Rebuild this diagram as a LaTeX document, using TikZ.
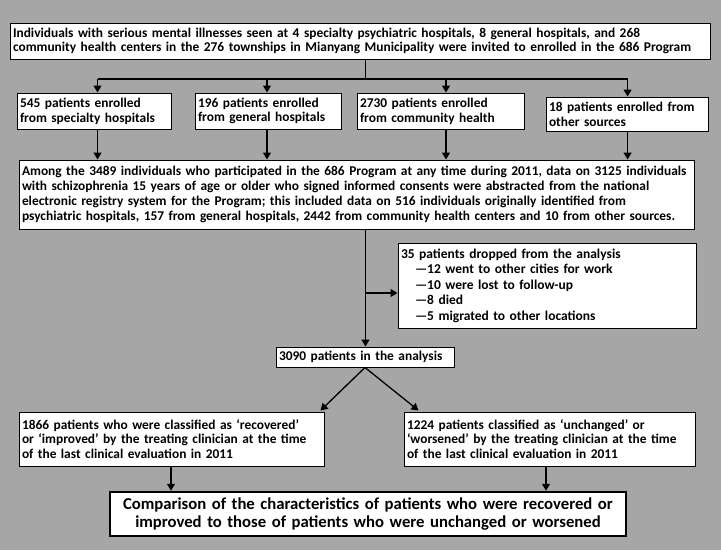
\documentclass[tikz,border=0pt]{standalone}
\usepackage{fontspec}
\setmainfont{Carlito}
\usetikzlibrary{arrows.meta,calc}
\definecolor{bg}{RGB}{166,166,166}
\tikzset{
  box/.style={draw=black, fill=white, line width=1pt, align=left, inner xsep=3pt, inner ysep=2pt,
    font=\bfseries\fontsize{13.4}{14.8}\selectfont},
  arr/.style={line width=1.3pt, -{Triangle[length=7pt,width=8pt]}},
  ln/.style={line width=1.3pt}
}
\begin{document}
\begin{tikzpicture}[x=1pt,y=-1pt]
\fill[bg] (0,0) rectangle (721,550);
\useasboundingbox (0,0) rectangle (721,550);

\node[box, text width=694pt, minimum height=36pt] (top) at (360,41)
 {Individuals with serious mental illnesses seen at 4 specialty psychiatric hospitals, 8 general hospitals, and 268\\
  community health centers in the 276 townships in Mianyang Municipality were invited to enrolled in the 686 Program};

\node[box, text width=148pt, minimum height=36pt] (b1) at (94,111) {545 patients enrolled\\from specialty hospitals};
\node[box, text width=140pt, minimum height=36pt] (b2) at (268,111) {196 patients enrolled\\from general hospitals};
\node[box, text width=161pt, minimum height=36pt] (b3) at (440.5,111) {2730 patients enrolled\\from community health};
\node[box, text width=156pt, minimum height=34pt] (b4) at (627,114) {18 patients enrolled from\\other sources};

\node[box, text width=669pt, minimum height=69pt] (big) at (356.5,194.5)
 {Among the 3489 individuals who participated in the 686 Program at any time during 2011, data on 3125 individuals\\
  with schizophrenia 15 years of age or older who signed informed consents were abstracted from the national\\
  electronic registry system for the Program; this included data on 516 individuals originally identified from\\
  psychiatric hospitals, 157 from general hospitals, 2442 from community health centers and 10 from other sources.};

\node[box, text width=292pt, minimum height=85pt, font=\bfseries\fontsize{13.5}{15.5}\selectfont] (drop) at (547,285.5)
 {35 patients dropped from the analysis\\
  \hspace*{14pt}—12 went to other cities for work\\
  \hspace*{14pt}—10 were lost to follow-up\\
  \hspace*{14pt}—8 died\\
  \hspace*{14pt}—5 migrated to other locations};

\node[box, text width=172pt, minimum height=20pt, inner ysep=1pt] (n3090) at (365,357) {3090 patients in the analysis};

\node[box, text width=299pt, minimum height=54pt] (left) at (171.5,439)
 {1866 patients who were classified as ‘recovered’\\or ‘improved’ by the treating clinician at the time\\of the last clinical evaluation in 2011};
\node[box, text width=285pt, minimum height=54pt] (right) at (549.5,439)
 {1224 patients classified as ‘unchanged’ or\\‘worsened’ by the treating clinician at the time\\of the last clinical evaluation in 2011};

\node[box, line width=2.5pt, align=center, text width=510pt, minimum height=44pt,
  font=\bfseries\fontsize{16.7}{18.5}\selectfont] (final) at (368,514)
 {Comparison of the characteristics of patients who were recovered or\\improved to those of patients who were unchanged or worsened};

% connectors top -> four
\coordinate (j) at (365.5,79);
\coordinate (c1) at (97.5,79);
\coordinate (c2) at (267,79);
\coordinate (c3) at (446,79);
\coordinate (c4) at (627.6,79);
\draw[ln] (top.south -| j) -- (j);
\draw[ln] (c1) -- (c4);
\draw[arr] (c1) -- (c1 |- b1.north);
\draw[arr] (c2) -- (c2 |- b2.north);
\draw[arr] (c3) -- (c3 |- b3.north);
\draw[arr] (c4) -- (c4 |- b4.north);
\draw[arr] (c1 |- b1.south) -- (c1 |- big.north);
\draw[arr] (c2 |- b2.south) -- (c2 |- big.north);
\draw[arr] (c3 |- b3.south) -- (c3 |- big.north);
\draw[arr] (c4 |- b4.south) -- (c4 |- big.north);

% big -> 3090 and dropped
\coordinate (s) at (365.5,293);
\draw[arr] (s |- big.south) -- (s |- n3090.north);
\draw[arr] (s) -- (s -| drop.west);

% 3090 -> two groups
\draw[arr] (n3090.south) -- ($(left.north east)+(-4,-1)$);
\draw[arr] (n3090.south) -- ($(right.north west)+(15,-1)$);

% groups -> final
\coordinate (f1) at (171,466);
\coordinate (f2) at (546,466);
\draw[arr] (f1 |- left.south) -- (f1 |- final.north);
\draw[arr] (f2 |- right.south) -- (f2 |- final.north);
\end{tikzpicture}
\end{document}
